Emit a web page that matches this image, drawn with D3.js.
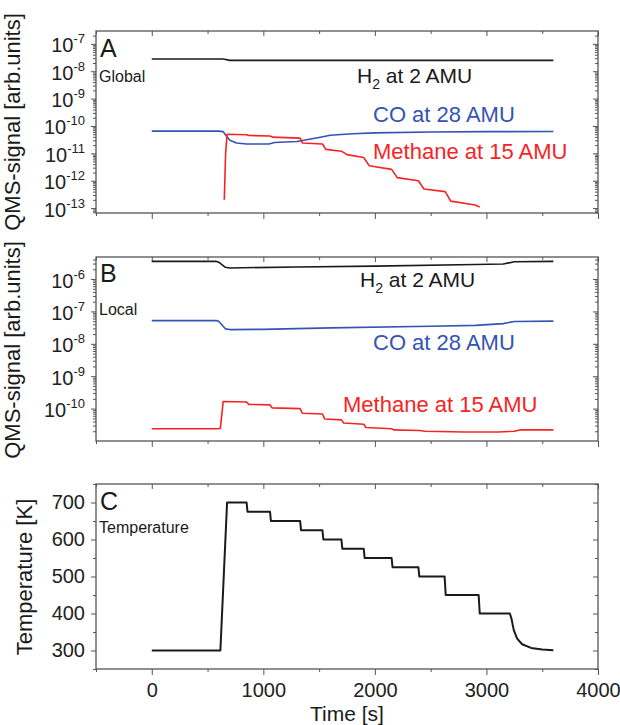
<!DOCTYPE html>
<html>
  <head>
    <meta charset="utf-8">
    <title>QMS signals and temperature</title>
    <script src="https://d3js.org/d3.v7.min.js"></script>
    <style>
      body { margin: 0; background: #fff; }
      text { font-family: "Liberation Sans", Arial, sans-serif; }
    </style>
  </head>
  <body>
    <svg id="canvas" width="620" height="725"></svg>
    <script>

      // ---- data: [time in s, value] ----
      var h2Global = [[0, 2.8e-8], [640, 2.8e-8], [700, 2.5e-8], [3600, 2.5e-8]];
      var coGlobal = [[0, 6.5e-11], [600, 6.5e-11], [640, 6.2e-11], [665, 4.5e-11], [700, 3.0e-11],
                      [760, 2.4e-11], [850, 2.2e-11], [1050, 2.2e-11], [1100, 2.5e-11], [1300, 2.7e-11],
                      [1400, 3.2e-11], [1500, 3.8e-11], [1600, 4.6e-11], [1800, 5.2e-11], [2000, 5.6e-11],
                      [2500, 6.0e-11], [3000, 6.2e-11], [3600, 6.3e-11]];
      var ch4Global = [[650, 2.0e-13], [662, 1.0e-11], [675, 5.0e-11], [850, 4.8e-11], [870, 4.5e-11],
                       [1060, 4.3e-11], [1080, 3.9e-11], [1330, 3.6e-11], [1350, 2.4e-11], [1530, 2.2e-11],
                       [1560, 1.4e-11], [1700, 1.2e-11], [1750, 9e-12], [1900, 7e-12], [1950, 3.5e-12],
                       [2150, 2.6e-12], [2200, 1.3e-12], [2390, 1.0e-12], [2440, 5e-13], [2630, 4e-13],
                       [2680, 1.8e-13], [2900, 1.3e-13], [2940, 1.1e-13]];

      var h2Local = [[0, 3.5e-6], [580, 3.5e-6], [600, 3.3e-6], [660, 2.3e-6], [700, 2.2e-6],
                     [1300, 2.35e-6], [2000, 2.5e-6], [2900, 2.8e-6], [3150, 2.9e-6], [3250, 3.4e-6],
                     [3600, 3.5e-6]];
      var coLocal = [[0, 5.2e-8], [580, 5.2e-8], [600, 5.0e-8], [660, 2.9e-8], [700, 2.75e-8],
                     [1000, 2.8e-8], [1600, 3.1e-8], [2500, 3.5e-8], [2900, 3.7e-8], [3150, 4.2e-8],
                     [3250, 4.9e-8], [3600, 5.0e-8]];
      var ch4Local = [[0, 2.4e-11], [600, 2.4e-11], [615, 2.5e-11], [640, 1.65e-10], [850, 1.6e-10],
                      [870, 1.35e-10], [1060, 1.3e-10], [1080, 1.05e-10], [1330, 1.0e-10], [1350, 7.2e-11],
                      [1530, 6.8e-11], [1550, 4.8e-11], [1700, 4.5e-11], [1720, 3.6e-11], [1900, 3.3e-11],
                      [1920, 2.6e-11], [2150, 2.4e-11], [2170, 2.2e-11], [2400, 2.1e-11], [2450, 2.0e-11],
                      [2800, 1.9e-11], [3100, 1.9e-11], [3250, 2.0e-11], [3300, 2.2e-11], [3600, 2.2e-11]];

      var temperature = [[0, 300], [615, 300], [675, 700], [850, 700], [858, 675], [1060, 675],
                         [1068, 650], [1330, 650], [1338, 625], [1530, 625], [1538, 600], [1700, 600],
                         [1708, 575], [1900, 575], [1908, 550], [2150, 550], [2158, 525], [2390, 525],
                         [2398, 500], [2625, 500], [2635, 450], [2930, 450], [2940, 400], [3210, 400],
                         [3225, 385], [3245, 355], [3275, 332], [3320, 317], [3400, 307], [3500, 303],
                         [3600, 301]];

      var timeTicks = [0, 1000, 2000, 3000, 4000];
      var timeMinor = [-500, 500, 1500, 2500, 3500];
      var logTicksA = [-13, -12, -11, -10, -9, -8, -7];
      var logTicksB = [-10, -9, -8, -7, -6];
      var tempTicks = [300, 400, 500, 600, 700];
      var tempMinor = [250, 350, 450, 550, 650, 750];

      // ---- layout ----
      var L = 96, R = 598;
      var svg = d3.select("#canvas");
      var x = d3.scaleLinear().domain([-500, 4000]).range([L, R]);

      var panels = [
        { top: 31, bottom: 213, y: d3.scaleLog().domain([Math.pow(10, -13.18), Math.pow(10, -6.53)]).range([213, 31]), ticks: logTicksA },
        { top: 257, bottom: 441, y: d3.scaleLog().domain([1e-11, Math.pow(10, -5.32)]).range([441, 257]), ticks: logTicksB },
        { top: 484, bottom: 669, y: d3.scaleLinear().domain([250, 750]).range([669, 484]), ticks: tempTicks }
      ];

      var frameColor = "#555";

      // minor ticks 2..9 of every decade inside the domain
      function minorLog(scale) {
        var out = [];
        var dom = scale.domain();
        for (var e = -14; e <= -4; e++) {
          for (var k = 2; k <= 9; k++) {
            var v = k * Math.pow(10, e);
            if (v > dom[0] && v < dom[1]) out.push(v);
          }
        }
        return out;
      }

      function styleAxis(g) {
        g.select(".domain").remove();
        g.selectAll(".tick line").attr("stroke", frameColor).attr("stroke-width", 1);
        g.selectAll(".tick text").attr("fill", "#222").style("font-size", "20px")
          .style("font-family", "'Liberation Sans', Arial, sans-serif");
      }

      panels.forEach(function(p, i) {
        var isLog = i < 2;
        var majors = isLog ? p.ticks.map(function(e){ return Math.pow(10, e); }) : p.ticks;
        var minors = isLog ? minorLog(p.y) : tempMinor;

        // bottom axis (outward)
        svg.append("g").attr("transform", "translate(0," + p.bottom + ")")
          .call(d3.axisBottom(x).tickValues(timeTicks).tickSizeInner(6).tickSizeOuter(0)
            .tickPadding(8).tickFormat(i === 2 ? d3.format("d") : function(){ return ""; }))
          .call(styleAxis);
        svg.append("g").attr("transform", "translate(0," + p.bottom + ")")
          .call(d3.axisBottom(x).tickValues(timeMinor).tickSize(3).tickFormat(""))
          .call(styleAxis);
        // top axis (inward)
        svg.append("g").attr("transform", "translate(0," + p.top + ")")
          .call(d3.axisTop(x).tickValues(timeTicks).tickSize(-5).tickFormat(""))
          .call(styleAxis);
        svg.append("g").attr("transform", "translate(0," + p.top + ")")
          .call(d3.axisTop(x).tickValues(timeMinor).tickSize(-3).tickFormat(""))
          .call(styleAxis);

        // left axis (outward)
        var left = svg.append("g").attr("transform", "translate(" + L + ",0)")
          .call(d3.axisLeft(p.y).tickValues(majors).tickSize(5).tickPadding(6)
            .tickFormat(isLog ? function(){ return ""; } : d3.format("d")))
          .call(styleAxis);
        if (isLog) {
          left.selectAll(".tick text").attr("dy", "0.4em").each(function(d) {
            var t = d3.select(this);
            t.append("tspan").text("10");
            t.append("tspan").attr("dy", -9).style("font-size", "13px")
              .text(Math.round(Math.log10(d)));
          });
        }
        svg.append("g").attr("transform", "translate(" + L + ",0)")
          .call(d3.axisLeft(p.y).tickValues(minors).tickSize(3).tickFormat(""))
          .call(styleAxis);
        // right axis (inward)
        svg.append("g").attr("transform", "translate(" + R + ",0)")
          .call(d3.axisRight(p.y).tickValues(majors).tickSize(-5).tickFormat(""))
          .call(styleAxis);
        svg.append("g").attr("transform", "translate(" + R + ",0)")
          .call(d3.axisRight(p.y).tickValues(minors).tickSize(-3).tickFormat(""))
          .call(styleAxis);

        svg.append("rect")
          .attr("x", L).attr("y", p.top)
          .attr("width", R - L).attr("height", p.bottom - p.top)
          .attr("fill", "none").attr("stroke", frameColor).attr("stroke-width", 1.3);
      });

      // ---- lines ----
      var black = "#1a1a1a", blue = "#3553b5", red = "#f52424";

      function drawLine(data, yScale, color, width) {
        svg.append("path")
          .datum(data)
          .attr("fill", "none")
          .attr("stroke", color)
          .attr("stroke-width", width)
          .attr("stroke-linejoin", "round")
          .attr("d", d3.line().x(function(d){ return x(d[0]); }).y(function(d){ return yScale(d[1]); }));
      }

      drawLine(h2Global, panels[0].y, black, 1.6);
      drawLine(coGlobal, panels[0].y, blue, 1.6);
      drawLine(ch4Global, panels[0].y, red, 1.6);
      drawLine(h2Local, panels[1].y, black, 1.6);
      drawLine(coLocal, panels[1].y, blue, 1.6);
      drawLine(ch4Local, panels[1].y, red, 1.6);
      drawLine(temperature, panels[2].y, black, 2);

      // ---- text ----
      function label(xp, yp, str, size, color) {
        return svg.append("text").attr("x", xp).attr("y", yp)
          .style("font-size", size + "px").attr("fill", color || "#1a1a1a").text(str);
      }
      function h2Label(xp, yp) {
        var t = svg.append("text").attr("x", xp).attr("y", yp).style("font-size", "21px").attr("fill", black);
        t.append("tspan").text("H");
        t.append("tspan").attr("dy", 6).style("font-size", "14px").text("2");
        t.append("tspan").attr("dy", -6).text(" at 2 AMU");
      }

      label(100, 57, "A", 25);
      label(99, 82, "Global", 16);
      h2Label(357, 83);
      label(373, 122, "CO at 28 AMU", 22, blue);
      label(373, 159, "Methane at 15 AMU", 22, red);

      label(100, 282, "B", 25);
      label(99, 315, "Local", 16);
      h2Label(360, 287);
      label(373, 350, "CO at 28 AMU", 22, blue);
      label(343, 412, "Methane at 15 AMU", 22, red);

      label(100, 510, "C", 25);
      label(99, 533, "Temperature", 16);

      function yTitle(xp, yp, str) {
        svg.append("text")
          .attr("transform", "translate(" + xp + "," + yp + ") rotate(-90)")
          .attr("text-anchor", "middle")
          .style("font-size", "22px").attr("fill", "#1a1a1a")
          .text(str);
      }
      yTitle(20, 122, "QMS-signal [arb.units]");
      yTitle(20, 350, "QMS-signal [arb.units]");
      yTitle(32, 577, "Temperature [K]");

      svg.append("text").attr("x", (L + R) / 2).attr("y", 721)
        .attr("text-anchor", "middle").style("font-size", "21px").attr("fill", "#1a1a1a")
        .text("Time [s]");

    </script>
  </body>
</html>
